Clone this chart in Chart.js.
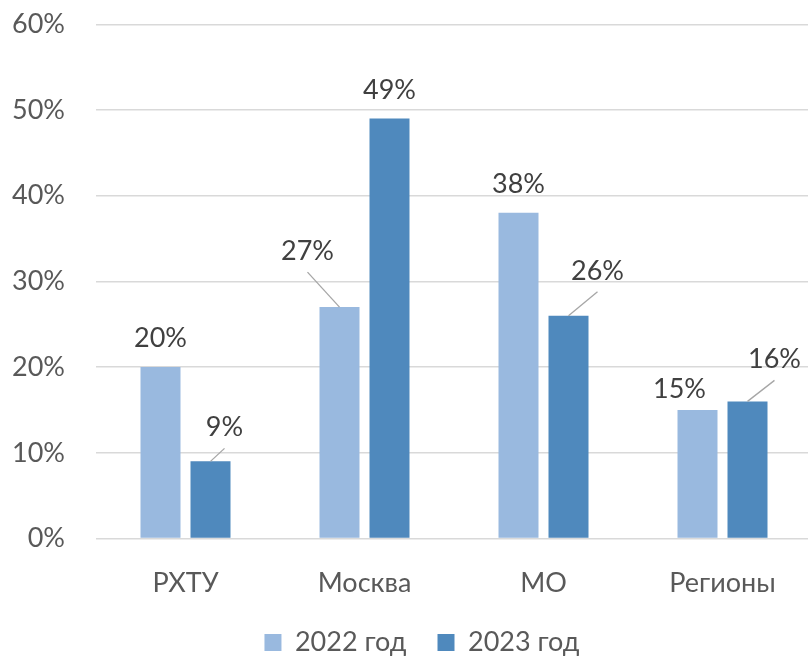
<!DOCTYPE html>
<html><head><meta charset="utf-8">
<script src="https://cdn.jsdelivr.net/npm/chart.js@4.4.1/dist/chart.umd.min.js"></script>
<style>html,body{margin:0;padding:0;overflow:hidden;background:#fff}#wrap{width:812px;height:656px}</style>
</head><body><div id="wrap"><canvas id="c" width="812" height="656"></canvas></div>
<script>
const categories = ['РХТУ', 'Москва', 'МО', 'Регионы'];
const seriesNames = ['2022 год', '2023 год'];
const values2022 = [20, 27, 38, 15];
const values2023 = [9, 49, 26, 16];
const yTickValues = [0, 10, 20, 30, 40, 50, 60];

// label placement relative to bar top: [dx, dy(baseline), leader line]
const labelPlacement = [
  [[0, -20, false], [-32, -47, true], [0, -20, false], [-18, -12, false]],
  [[14, -25, true], [0, -20, false], [29, -36, true], [27, -33, true]]
];

const dataLabels = {
  id: 'dataLabels',
  afterDatasetsDraw(chart) {
    const ctx = chart.ctx;
    chart.data.datasets.forEach((ds, di) => {
      const meta = chart.getDatasetMeta(di);
      meta.data.forEach((bar, i) => {
        const [dx, dy, leader] = labelPlacement[di][i];
        const tx = bar.x + dx, ty = bar.y + dy;
        ctx.save();
        if (leader) {
          ctx.strokeStyle = '#A6A6A6';
          ctx.lineWidth = 1.3;
          ctx.beginPath();
          ctx.moveTo(bar.x, bar.y);
          ctx.lineTo(tx, ty + 12);
          ctx.stroke();
        }
        ctx.font = '27px Lato';
        ctx.fillStyle = '#404040';
        ctx.textAlign = 'center';
        ctx.textBaseline = 'alphabetic';
        ctx.fillText(ds.data[i] + '%', tx, ty);
        ctx.restore();
      });
    });
  }
};

const legendShift = {
  id: 'legendShift',
  afterLayout(chart) {
    const l = chart.legend;
    l.left += 16; l.right += 16;
    l.top += 4.5; l.bottom += 4.5;
  }
};

function draw() {
  Chart.defaults.font.family = 'Lato';
  Chart.defaults.font.size = 27;
  new Chart(document.getElementById('c'), {
    type: 'bar',
    data: {
      labels: categories,
      datasets: [
        { label: seriesNames[0], data: values2022, backgroundColor: '#99B9DF' },
        { label: seriesNames[1], data: values2023, backgroundColor: '#4F89BD' }
      ]
    },
    options: {
      responsive: false,
      animation: false,
      layout: { padding: { top: 24.3, left: 0, right: 0, bottom: -5.5 } },
      datasets: { bar: { barPercentage: 0.8, categoryPercentage: 100 / 179 } },
      scales: {
        x: {
          grid: { display: false },
          border: { display: false },
          ticks: { color: '#595959', padding: 21, font: { size: 27 } },
          afterFit(s) { s.height = 55; s.paddingLeft = 0; s.paddingRight = 0; }
        },
        y: {
          min: 0, max: 60,
          afterBuildTicks(s) { s.ticks = yTickValues.map(v => ({ value: v })); },
          grid: { color: '#D9D9D9', lineWidth: 1.5, drawTicks: false },
          border: { display: false },
          ticks: { color: '#595959', padding: 31, font: { size: 27 }, callback: v => v + '%' },
          afterFit(s) { s.width = 96; s.paddingTop = 0; s.paddingBottom = 0; }
        }
      },
      plugins: {
        legend: {
          position: 'bottom',
          labels: { boxWidth: 17, boxHeight: 17, padding: 31, color: '#595959', font: { size: 27 } }
        },
        tooltip: { enabled: false }
      }
    },
    plugins: [dataLabels, legendShift]
  });
}
if (document.fonts && document.fonts.load) {
  document.fonts.load('27px Lato').then(draw, draw);
} else { draw(); }
</script></body></html>
